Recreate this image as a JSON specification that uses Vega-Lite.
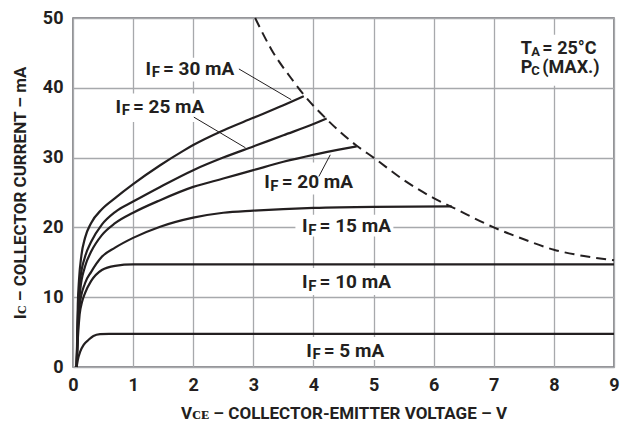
{
  "$schema": "https://vega.github.io/schema/vega-lite/v6.json",
  "width": 541,
  "height": 349,
  "autosize": {"type": "none"},
  "padding": {"left": 73, "top": 18, "right": 18, "bottom": 60},
  "background": "white",
  "config": {
    "font": "Roboto, DejaVu Sans, sans-serif",
    "view": {"stroke": "#6d6e71", "strokeWidth": 1.5},
    "text": {"font": "Roboto", "fontWeight": "bold", "color": "#231f20"},
    "axis": {
      "grid": true,
      "gridColor": "#a7a9ac",
      "gridWidth": 1.3,
      "gridOpacity": 1,
      "domain": false,
      "ticks": false,
      "labelFont": "Roboto",
      "labelFontSize": 18,
      "labelFontWeight": "bold",
      "labelColor": "#231f20",
      "titleFont": "Roboto",
      "titleFontSize": 17,
      "titleFontWeight": "bold",
      "titleColor": "#231f20"
    }
  },
  "datasets": {
    "curves": [
      {"series": "5", "v": 0.06, "i": 0}, {"series": "5", "v": 0.08, "i": 1.0}, {"series": "5", "v": 0.12, "i": 2.2}, {"series": "5", "v": 0.18, "i": 3.2}, {"series": "5", "v": 0.26, "i": 3.9}, {"series": "5", "v": 0.34, "i": 4.45}, {"series": "5", "v": 0.45, "i": 4.7}, {"series": "5", "v": 0.6, "i": 4.75}, {"series": "5", "v": 1.0, "i": 4.75}, {"series": "5", "v": 9.0, "i": 4.75},
      {"series": "10", "v": 0.06, "i": 0}, {"series": "10", "v": 0.08, "i": 4.0}, {"series": "10", "v": 0.11, "i": 7.5}, {"series": "10", "v": 0.15, "i": 9.3}, {"series": "10", "v": 0.2, "i": 10.6}, {"series": "10", "v": 0.3, "i": 12.3}, {"series": "10", "v": 0.48, "i": 13.9}, {"series": "10", "v": 0.7, "i": 14.5}, {"series": "10", "v": 1.0, "i": 14.7}, {"series": "10", "v": 9.0, "i": 14.7},
      {"series": "15", "v": 0.06, "i": 0}, {"series": "15", "v": 0.08, "i": 5.0}, {"series": "15", "v": 0.11, "i": 8.8}, {"series": "15", "v": 0.2, "i": 12.0}, {"series": "15", "v": 0.3, "i": 13.6}, {"series": "15", "v": 0.48, "i": 15.8}, {"series": "15", "v": 0.7, "i": 17.1}, {"series": "15", "v": 1.0, "i": 18.5}, {"series": "15", "v": 1.45, "i": 20.1}, {"series": "15", "v": 2.0, "i": 21.4}, {"series": "15", "v": 2.5, "i": 22.1}, {"series": "15", "v": 3.0, "i": 22.4}, {"series": "15", "v": 4.0, "i": 22.8}, {"series": "15", "v": 5.0, "i": 22.95}, {"series": "15", "v": 6.3, "i": 23.0},
      {"series": "20", "v": 0.06, "i": 0}, {"series": "20", "v": 0.08, "i": 6.0}, {"series": "20", "v": 0.12, "i": 11.0}, {"series": "20", "v": 0.2, "i": 14.4}, {"series": "20", "v": 0.3, "i": 16.5}, {"series": "20", "v": 0.48, "i": 18.9}, {"series": "20", "v": 0.7, "i": 20.6}, {"series": "20", "v": 1.0, "i": 22.1}, {"series": "20", "v": 1.45, "i": 23.9}, {"series": "20", "v": 2.0, "i": 25.8}, {"series": "20", "v": 2.5, "i": 27.0}, {"series": "20", "v": 3.0, "i": 28.2}, {"series": "20", "v": 3.5, "i": 29.4}, {"series": "20", "v": 4.0, "i": 30.4}, {"series": "20", "v": 4.4, "i": 31.1}, {"series": "20", "v": 4.72, "i": 31.6},
      {"series": "25", "v": 0.06, "i": 0}, {"series": "25", "v": 0.08, "i": 7.0}, {"series": "25", "v": 0.12, "i": 12.5}, {"series": "25", "v": 0.2, "i": 15.8}, {"series": "25", "v": 0.3, "i": 17.9}, {"series": "25", "v": 0.48, "i": 20.4}, {"series": "25", "v": 0.7, "i": 22.2}, {"series": "25", "v": 1.0, "i": 23.7}, {"series": "25", "v": 1.45, "i": 25.8}, {"series": "25", "v": 2.0, "i": 28.2}, {"series": "25", "v": 2.5, "i": 30.0}, {"series": "25", "v": 3.0, "i": 31.6}, {"series": "25", "v": 3.5, "i": 33.2}, {"series": "25", "v": 4.0, "i": 34.8}, {"series": "25", "v": 4.22, "i": 35.6},
      {"series": "30", "v": 0.06, "i": 0}, {"series": "30", "v": 0.08, "i": 9.0}, {"series": "30", "v": 0.1, "i": 12.5}, {"series": "30", "v": 0.14, "i": 16.0}, {"series": "30", "v": 0.2, "i": 18.5}, {"series": "30", "v": 0.3, "i": 20.6}, {"series": "30", "v": 0.48, "i": 22.6}, {"series": "30", "v": 0.7, "i": 24.2}, {"series": "30", "v": 1.0, "i": 26.2}, {"series": "30", "v": 1.45, "i": 28.9}, {"series": "30", "v": 1.84, "i": 31.0}, {"series": "30", "v": 2.0, "i": 31.8}, {"series": "30", "v": 2.5, "i": 33.9}, {"series": "30", "v": 3.0, "i": 35.7}, {"series": "30", "v": 3.5, "i": 37.5}, {"series": "30", "v": 3.84, "i": 38.8}
    ],
    "pcmax": [
      {"v": 3.03, "i": 50.0}, {"v": 3.3, "i": 45.5}, {"v": 3.67, "i": 40.9}, {"v": 3.84, "i": 39.0}, {"v": 4.22, "i": 35.5}, {"v": 4.72, "i": 31.7}, {"v": 5.0, "i": 30.0}, {"v": 5.5, "i": 26.8}, {"v": 6.0, "i": 24.2}, {"v": 6.33, "i": 22.8}, {"v": 7.0, "i": 20.0}, {"v": 7.5, "i": 18.3}, {"v": 8.0, "i": 16.8}, {"v": 8.5, "i": 15.9}, {"v": 9.0, "i": 15.3}
    ],
    "boxes": [
      {"v": 1.12, "v2": 2.72, "i": 44.3, "i2": 40.9},
      {"v": 0.62, "v2": 2.22, "i": 39.2, "i2": 35.1},
      {"v": 3.09, "v2": 4.74, "i": 29.3, "i2": 24.7},
      {"v": 3.70, "v2": 5.33, "i": 21.8, "i2": 18.7},
      {"v": 3.70, "v2": 5.33, "i": 14.2, "i2": 10.3},
      {"v": 3.70, "v2": 5.33, "i": 4.3, "i2": 1.0},
      {"v": 7.27, "v2": 8.85, "i": 47.6, "i2": 40.3}
    ],
    "leaders": [
      {"v": 2.76, "i": 42.7, "v2": 3.63, "i2": 38.3},
      {"v": 2.01, "i": 35.8, "v2": 2.87, "i2": 31.4},
      {"v": 4.09, "i": 27.3, "v2": 4.28, "i2": 30.4}
    ],
    "labels": [
      {"v": 1.205, "i": 41.9, "rest": "= 30 mA"},
      {"v": 0.706, "i": 36.4, "rest": "= 25 mA"},
      {"v": 3.18, "i": 25.6, "rest": "= 20 mA"},
      {"v": 3.81, "i": 19.3, "rest": "= 15 mA"},
      {"v": 3.81, "i": 11.3, "rest": "= 10 mA"},
      {"v": 3.88, "i": 1.48, "rest": "= 5 mA"}
    ],
    "notes": [
      {"v": 7.45, "i": 44.9, "main": "T", "sub": "A", "rest": "= 25°C"},
      {"v": 7.45, "i": 42.1, "main": "P", "sub": "C", "rest": "(MAX.)"}
    ]
  },
  "encoding": {
    "x": {
      "field": "v",
      "type": "quantitative",
      "scale": {"domain": [0, 9], "nice": false, "zero": false},
      "axis": {
        "values": [0, 1, 2, 3, 4, 5, 6, 7, 8, 9],
        "labelFlush": false,
        "labelPadding": 9,
        "titlePadding": 11,
        "title": "Vᴄᴇ – COLLECTOR-EMITTER VOLTAGE – V"
      }
    },
    "y": {
      "field": "i",
      "type": "quantitative",
      "scale": {"domain": [0, 50], "nice": false, "zero": false},
      "axis": {
        "values": [0, 10, 20, 30, 40, 50],
        "labelFlush": false,
        "labelPadding": 10,
        "titlePadding": 13,
        "title": "Iᴄ – COLLECTOR CURRENT – mA"
      }
    }
  },
  "layer": [
    {
      "data": {"name": "boxes"},
      "mark": {"type": "rect", "color": "white", "strokeWidth": 0},
      "encoding": {"x2": {"field": "v2"}, "y2": {"field": "i2"}}
    },
    {
      "data": {"name": "curves"},
      "mark": {"type": "line", "color": "#231f20", "strokeWidth": 2.2, "interpolate": "monotone"},
      "encoding": {"detail": {"field": "series", "type": "nominal"}}
    },
    {
      "data": {"name": "pcmax"},
      "mark": {"type": "line", "color": "#231f20", "strokeWidth": 2, "strokeDash": [10, 6], "interpolate": "monotone"},
      "encoding": {}
    },
    {
      "data": {"name": "leaders"},
      "mark": {"type": "rule", "color": "#231f20", "strokeWidth": 1},
      "encoding": {"x2": {"field": "v2"}, "y2": {"field": "i2"}}
    },
    {
      "data": {"name": "labels"},
      "mark": {"type": "text", "text": "I", "align": "left", "baseline": "alphabetic", "fontSize": 19}
    },
    {
      "data": {"name": "labels"},
      "mark": {"type": "text", "text": "F", "align": "left", "baseline": "alphabetic", "fontSize": 15, "dx": 6.2, "dy": 2.5}
    },
    {
      "data": {"name": "labels"},
      "mark": {"type": "text", "align": "left", "baseline": "alphabetic", "fontSize": 19, "dx": 17.5},
      "encoding": {"text": {"field": "rest"}}
    },
    {
      "data": {"name": "notes"},
      "mark": {"type": "text", "align": "left", "baseline": "alphabetic", "fontSize": 18},
      "encoding": {"text": {"field": "main"}}
    },
    {
      "data": {"name": "notes"},
      "mark": {"type": "text", "align": "left", "baseline": "alphabetic", "fontSize": 13, "dx": 10.5, "dy": 2},
      "encoding": {"text": {"field": "sub"}}
    },
    {
      "data": {"name": "notes"},
      "mark": {"type": "text", "align": "left", "baseline": "alphabetic", "fontSize": 18, "dx": 21.5},
      "encoding": {"text": {"field": "rest"}}
    }
  ]
}
